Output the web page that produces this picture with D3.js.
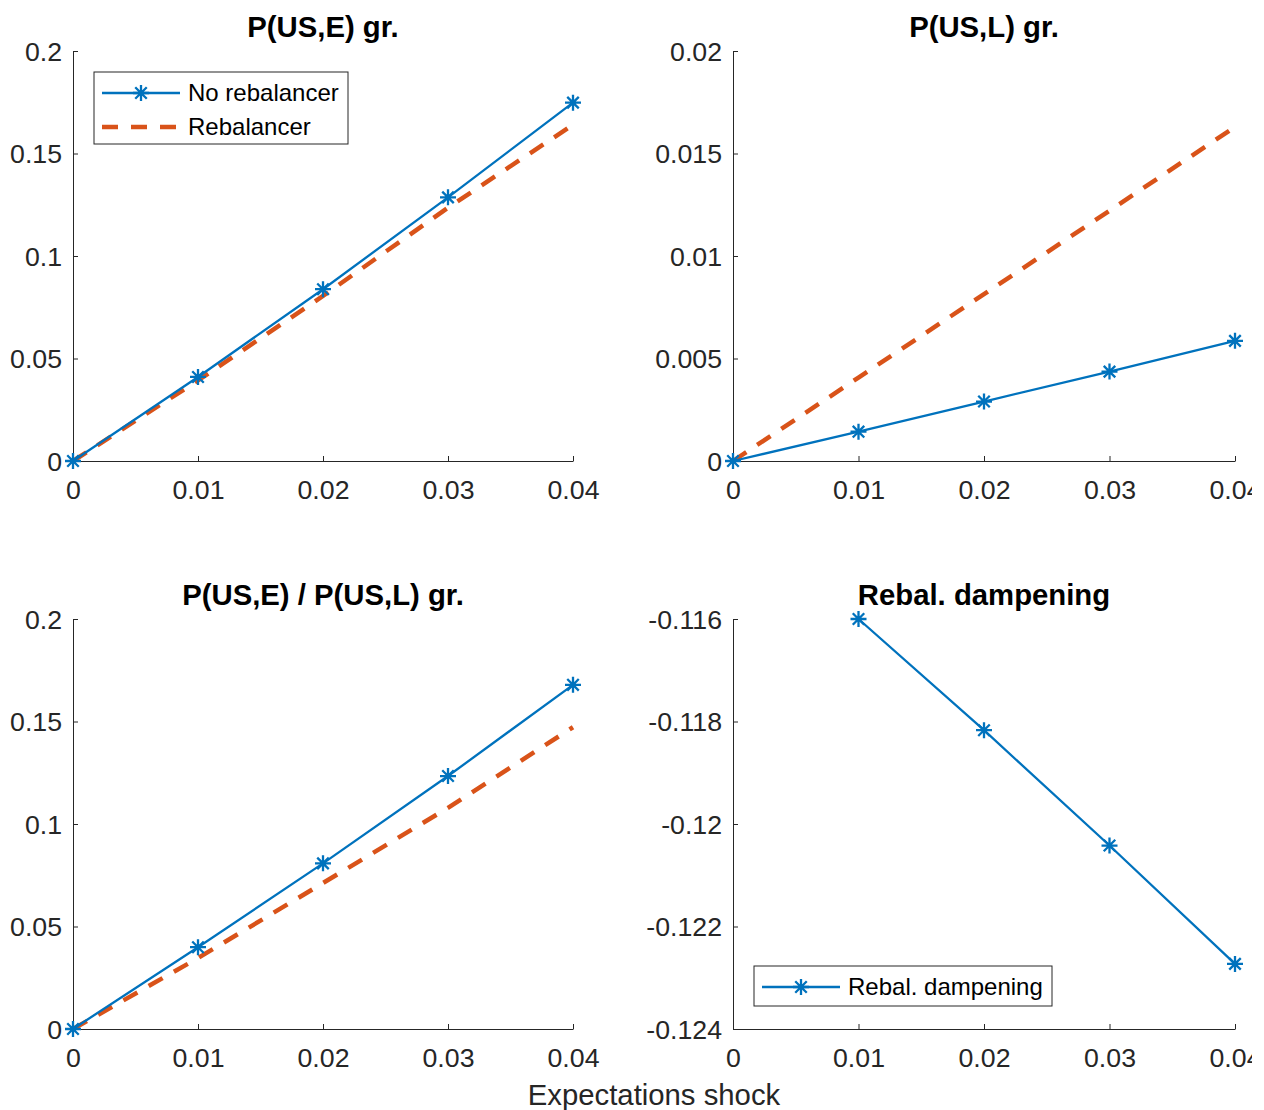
<!DOCTYPE html>
<html>
<head>
<meta charset="utf-8">
<script src="https://cdn.jsdelivr.net/npm/d3@7"></script>
<style>
  html, body { margin: 0; padding: 0; background: #fff; }
  svg { display: block; }
  text { font-family: "Liberation Sans", Arial, Helvetica, sans-serif; fill: #262626; }
</style>
</head>
<body>
<svg id="chart" width="1264" height="1110"></svg>
<script>
// ---------------- data ----------------
const shocks = [0, 0.01, 0.02, 0.03, 0.04];
const xTicks = [0, 0.01, 0.02, 0.03, 0.04];

// Panel 1: P(US,E) gr.
const pUSE_noReb = [0, 0.0410, 0.0838, 0.1286, 0.1748];
const pUSE_reb   = [0, 0.0393, 0.0805, 0.1236, 0.1640];
const pUSE_yTicks = [0, 0.05, 0.1, 0.15, 0.2];

// Panel 2: P(US,L) gr.
const pUSL_noReb = [0, 0.00143, 0.00290, 0.00436, 0.00586];
const pUSL_reb   = [0, 0.00407, 0.00814, 0.01221, 0.01630];
const pUSL_yTicks = [0, 0.005, 0.01, 0.015, 0.02];

// Panel 3: P(US,E) / P(US,L) gr.
const ratio_noReb = [0, 0.0399, 0.0808, 0.1234, 0.1679];
const ratio_reb   = [0, 0.0346, 0.0712, 0.1079, 0.1472];
const ratio_yTicks = [0, 0.05, 0.1, 0.15, 0.2];

// Panel 4: Rebal. dampening
const dampShocks = [0.01, 0.02, 0.03, 0.04];
const dampValues = [-0.11600, -0.11817, -0.12042, -0.12273];
const damp_yTicks = [-0.124, -0.122, -0.12, -0.118, -0.116];

const seriesNames = ["No rebalancer", "Rebalancer"];
const dampName = "Rebal. dampening";
const titles = ["P(US,E) gr.", "P(US,L) gr.", "P(US,E) / P(US,L) gr.", "Rebal. dampening"];
const xLabel = "Expectations shock";

// ---------------- style ----------------
const BLUE = "#0072BD", RED = "#D95319", AX = "#262626";
const TICK_FS = 26.7, LEG_FS = 24, TITLE_FS = 29.3;
const svg = d3.select("#chart");
svg.append("defs").append("clipPath").attr("id", "fig")
  .append("rect").attr("x", 0).attr("y", 0).attr("width", 1252).attr("height", 1110);
const root = svg.append("g").attr("clip-path", "url(#fig)");

function asterisk(g, cx, cy, r) {
  const k = r * 0.72;
  const d = `M${cx},${cy - r}L${cx},${cy + r}` +
            `M${cx - r},${cy}L${cx + r},${cy}` +
            `M${cx - k},${cy - k}L${cx + k},${cy + k}` +
            `M${cx - k},${cy + k}L${cx + k},${cy - k}`;
  g.append("path").attr("d", d).attr("stroke", BLUE).attr("stroke-width", 2.3).attr("fill", "none");
}

function panel(opts) {
  const { left, right, top, bottom, yDomain, yTicks, yFmt, title, series } = opts;
  const x = d3.scaleLinear().domain([0, 0.04]).range([left, right]);
  const y = d3.scaleLinear().domain(yDomain).range([bottom, top]);
  const g = root.append("g");

  const xa = g.append("g").attr("transform", `translate(0,${bottom})`)
    .call(d3.axisBottom(x).tickValues(xTicks).tickSizeInner(-5).tickSizeOuter(0)
      .tickPadding(19).tickFormat(d => String(+d.toFixed(4))));
  const ya = g.append("g").attr("transform", `translate(${left},0)`)
    .call(d3.axisLeft(y).tickValues(yTicks).tickSizeInner(-5).tickSizeOuter(0)
      .tickPadding(11).tickFormat(yFmt));
  [xa, ya].forEach(a => {
    a.select(".domain").attr("stroke", AX).attr("stroke-width", 1);
    a.selectAll(".tick line").attr("stroke", AX).attr("stroke-width", 1);
    a.selectAll(".tick text").attr("fill", AX).style("font-size", TICK_FS + "px")
      .style("font-family", '"Liberation Sans", Arial, sans-serif');
  });
  xa.selectAll(".tick text").attr("dy", "0.71em");
  ya.selectAll(".tick text").attr("dy", "0.35em");

  g.append("text").attr("x", (left + right) / 2).attr("y", top - 14)
    .attr("text-anchor", "middle").style("font-size", TITLE_FS + "px").style("font-weight", "bold")
    .style("fill", "#000").text(title);

  series.forEach(s => {
    const pts = s.xs.map((v, i) => [x(v), y(s.ys[i])]);
    const p = g.append("path").attr("d", d3.line()(pts)).attr("fill", "none")
      .attr("stroke", s.color).attr("stroke-width", s.dashed ? 4.5 : 2.3);
    if (s.dashed) p.attr("stroke-dasharray", "16,13");
    if (s.marker) pts.forEach(([px, py]) => asterisk(g, px, py, 8));
  });
  return { x, y, g };
}

const fmtPlain = d => String(+d.toFixed(4));

panel({ left: 73, right: 573, top: 51, bottom: 461, yDomain: [0, 0.2], yTicks: pUSE_yTicks,
  yFmt: fmtPlain, title: titles[0],
  series: [
    { xs: shocks, ys: pUSE_reb, color: RED, dashed: true },
    { xs: shocks, ys: pUSE_noReb, color: BLUE, marker: true }
  ] });
panel({ left: 733, right: 1235, top: 51, bottom: 461, yDomain: [0, 0.02], yTicks: pUSL_yTicks,
  yFmt: fmtPlain, title: titles[1],
  series: [
    { xs: shocks, ys: pUSL_reb, color: RED, dashed: true },
    { xs: shocks, ys: pUSL_noReb, color: BLUE, marker: true }
  ] });
panel({ left: 73, right: 573, top: 619, bottom: 1029, yDomain: [0, 0.2], yTicks: ratio_yTicks,
  yFmt: fmtPlain, title: titles[2],
  series: [
    { xs: shocks, ys: ratio_reb, color: RED, dashed: true },
    { xs: shocks, ys: ratio_noReb, color: BLUE, marker: true }
  ] });
panel({ left: 733, right: 1235, top: 619, bottom: 1029, yDomain: [-0.124, -0.116], yTicks: damp_yTicks,
  yFmt: fmtPlain, title: titles[3],
  series: [
    { xs: dampShocks, ys: dampValues, color: BLUE, marker: true }
  ] });

function legend(x0, y0, w, h, items) {
  const g = root.append("g");
  g.append("rect").attr("x", x0).attr("y", y0).attr("width", w).attr("height", h)
    .attr("fill", "#fff").attr("stroke", AX).attr("stroke-width", 1);
  items.forEach((it, i) => {
    const cy = y0 + 21 + i * 34;
    const l = g.append("line").attr("x1", x0 + 8).attr("x2", x0 + 86).attr("y1", cy).attr("y2", cy)
      .attr("stroke", it.color).attr("stroke-width", it.dashed ? 4.5 : 2.3);
    if (it.dashed) l.attr("stroke-dasharray", "16,13");
    if (it.marker) asterisk(g, x0 + 47, cy, 8);
    g.append("text").attr("x", x0 + 94).attr("y", cy).attr("dy", "0.35em")
      .style("font-size", LEG_FS + "px").style("fill", "#000").text(it.name);
  });
}
legend(94, 72, 254, 72, [
  { name: seriesNames[0], color: BLUE, marker: true },
  { name: seriesNames[1], color: RED, dashed: true }
]);
legend(754, 966, 298, 40, [
  { name: dampName, color: BLUE, marker: true }
]);

root.append("text").attr("x", 654).attr("y", 1105).attr("text-anchor", "middle")
  .style("font-size", TITLE_FS + "px").text(xLabel);
</script>
</body>
</html>
